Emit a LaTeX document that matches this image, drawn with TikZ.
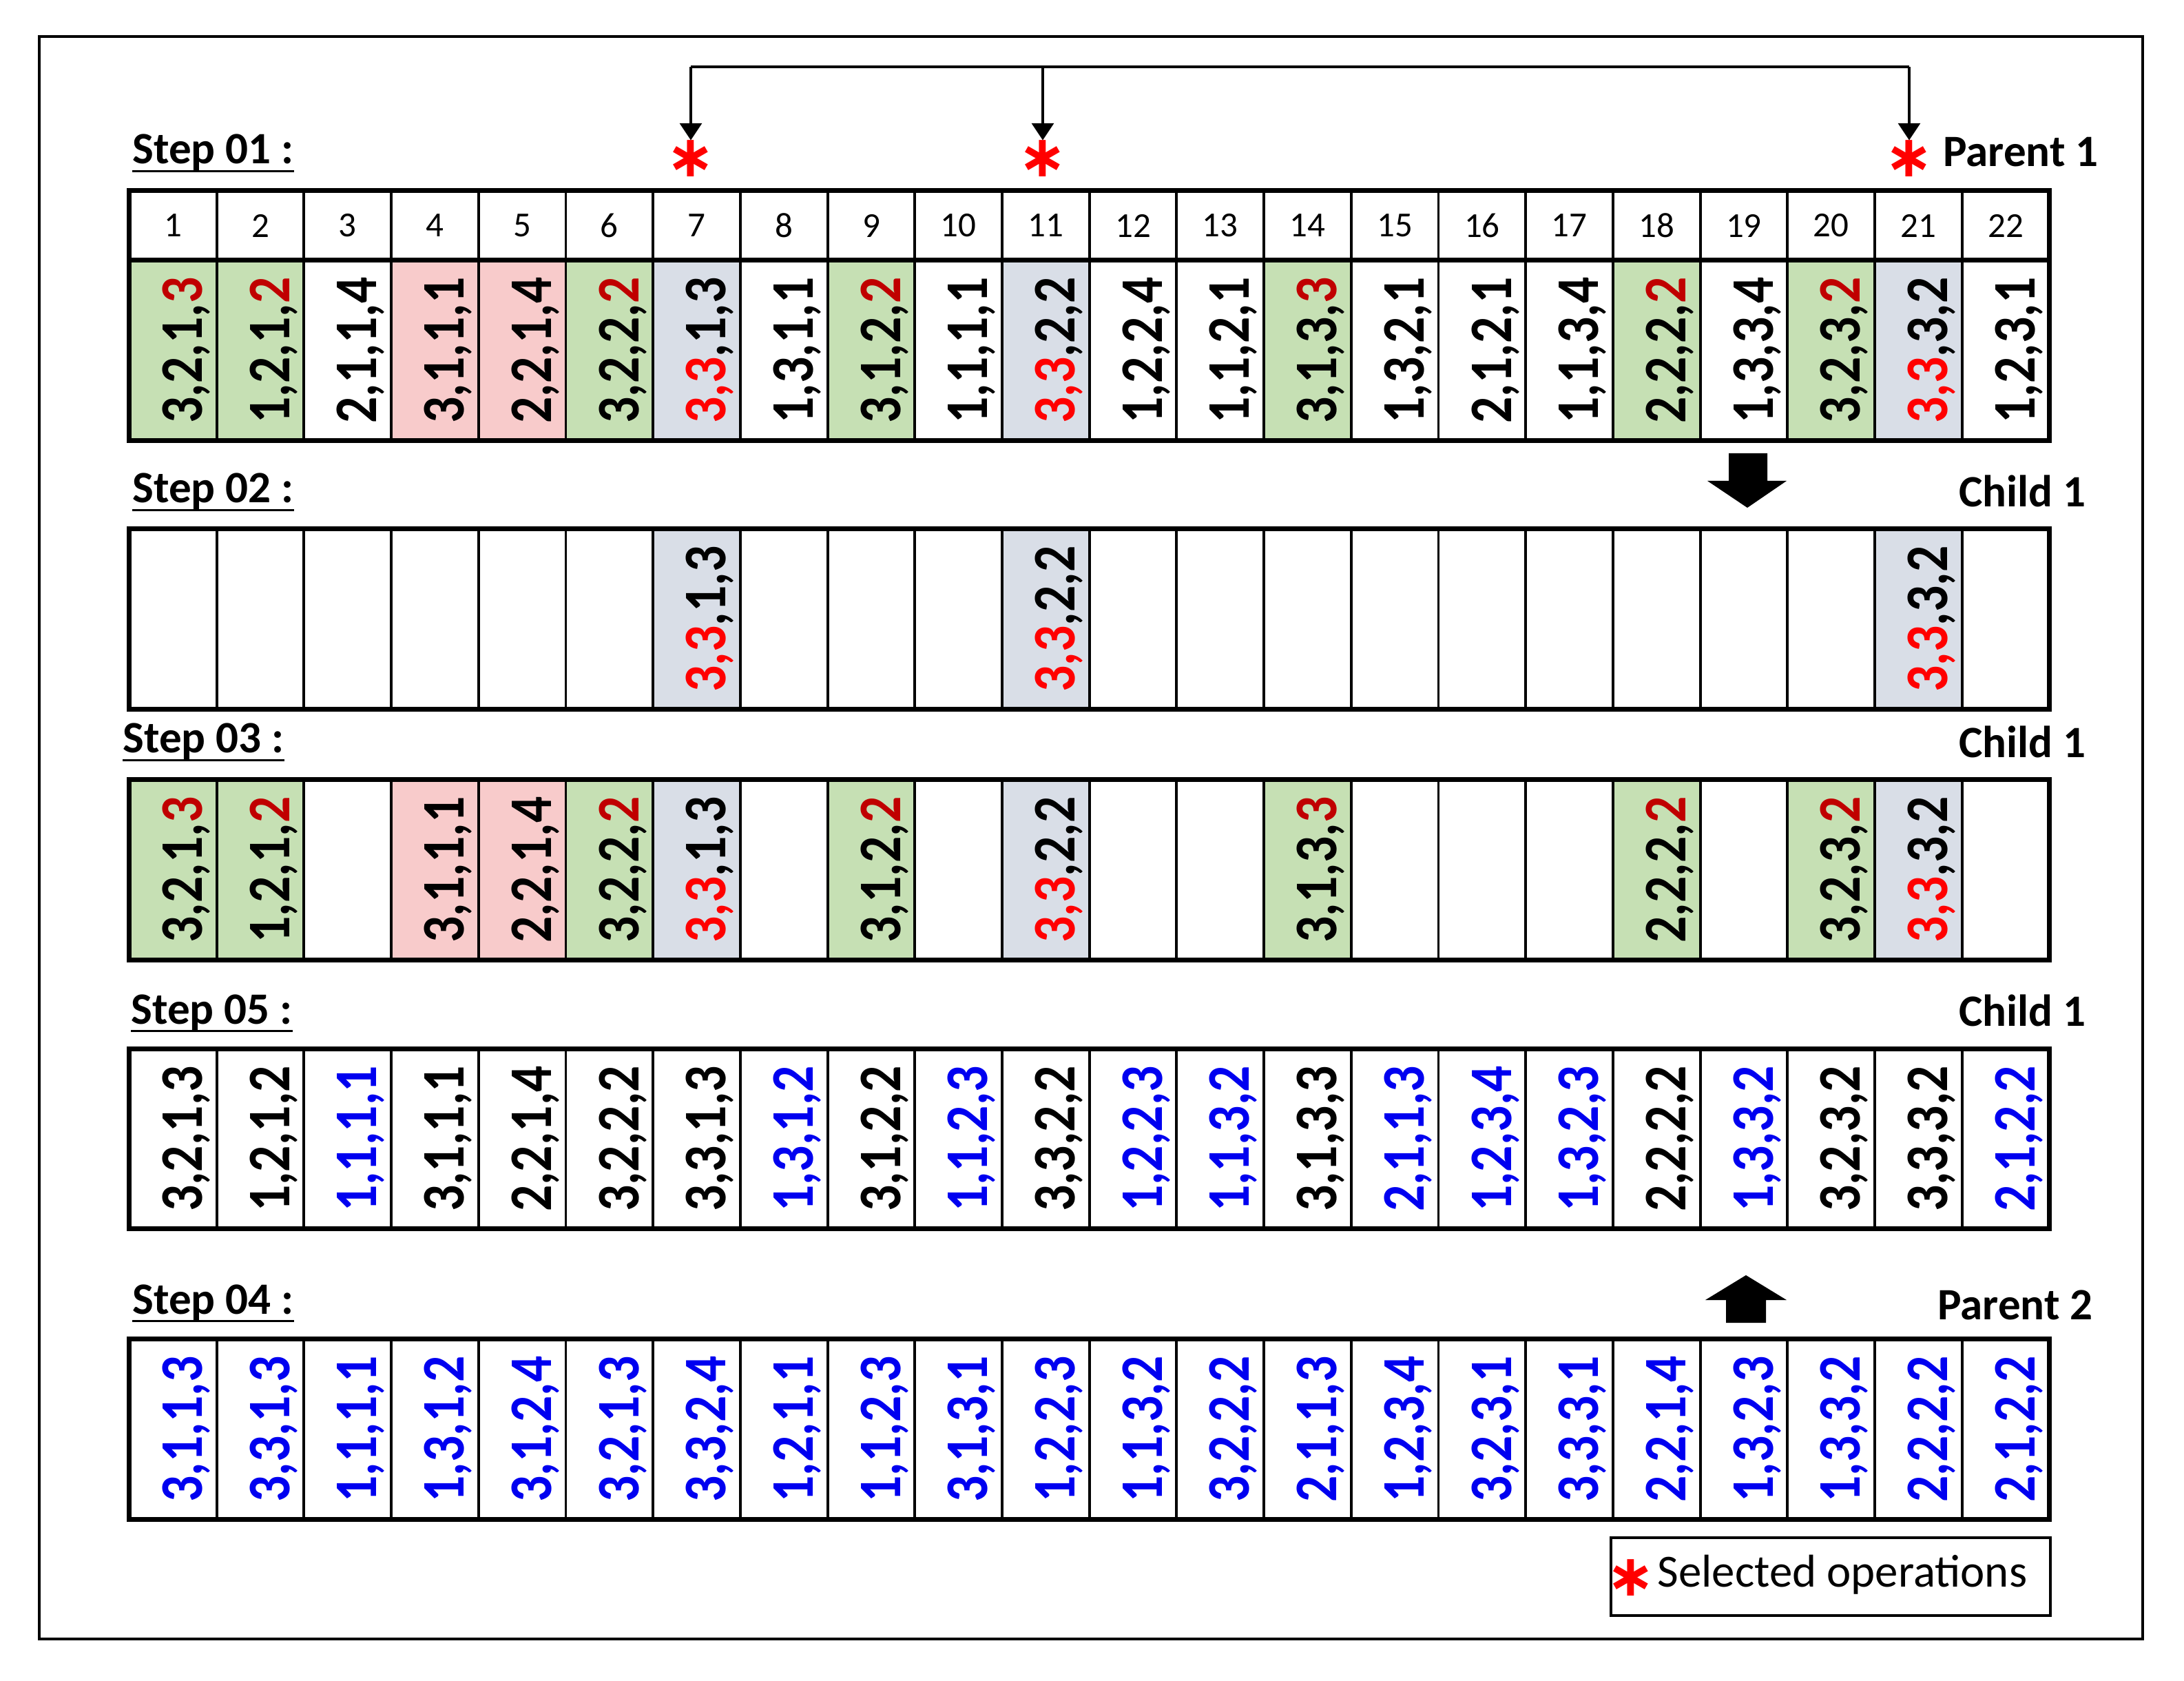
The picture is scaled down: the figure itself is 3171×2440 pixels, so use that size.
\documentclass[tikz,border=0pt]{standalone}
\usepackage{fontspec}
\usepackage{graphicx}
\setmainfont{Carlito}
\newfontfamily\astfont{DejaVu Sans}
\usetikzlibrary{arrows.meta}
\definecolor{cgreen}{HTML}{C6E0B4}
\definecolor{cpink}{HTML}{F8CBCB}
\definecolor{cgrey}{HTML}{D9DEE7}
\definecolor{dred}{HTML}{C00000}
\definecolor{bred}{HTML}{FF0000}
\definecolor{cblue}{HTML}{0000F0}
\newcommand\valtxt[1]{\hspace*{11pt}\rotatebox{90}{\scalebox{1}[1.16]{#1}}}
\newcommand\bl[1]{\textcolor{cblue}{#1}}
\tikzset{
  cell/.style={draw, line width=1.1pt, inner sep=0pt, outer sep=0pt,
    minimum width=1.267cm, minimum height=2.61cm,
    font=\bfseries\fontsize{21.5}{24}\selectfont},
  hcell/.style={draw, line width=1.1pt, inner sep=0pt, outer sep=0pt,
    minimum width=1.267cm, minimum height=1.01cm,
    font=\fontsize{14.5}{16}\selectfont},
  rowframe/.style={line width=2pt},
  lbl/.style={inner sep=0pt, font=\bfseries\fontsize{18.5}{21}\selectfont},
  ul/.style={line width=1.1pt},
  ast/.style={inner sep=0pt, outer sep=0pt, text=bred,
    font=\astfont\bfseries\fontsize{24}{26}\selectfont},
  conn/.style={line width=1.1pt},
  tip/.style={-{Triangle[width=9pt,length=7pt]}},
  legbox/.style={draw, line width=1.1pt, inner sep=0pt, outer sep=0pt,
    minimum width=6.38cm, minimum height=1.13cm},
}
\begin{document}
\begin{tikzpicture}[x=0.01cm, y=-0.01cm]
\useasboundingbox (0,0) rectangle (3171,2440);
\fill[white] (0,0) rectangle (3171,2440);
\draw[line width=1.3pt] (57,53) rectangle (3111,2379);

% ---------- Step 01 : Parent 1 ----------
\node[lbl, anchor=base west] (s1) at (192,238) {Step 01 :};
\draw[ul] ([yshift=-3pt]s1.base west) -- ([yshift=-3pt]s1.base east);
\node[lbl, anchor=base east] (r1) at (3047,242) {Parent 1};

\foreach \i in {1,...,22}{
  \pgfmathsetmacro\x{124.65+126.7*\i}
  \node[hcell] (h\i) at (\x,327.5) {\i};
}
\foreach \i/\vv/\ff in {
 1/{3,2,1,\textcolor{dred}{3}}/cgreen,
 2/{1,2,1,\textcolor{dred}{2}}/cgreen,
 3/{2,1,1,4}/white,
 4/{3,1,1,1}/cpink,
 5/{2,2,1,4}/cpink,
 6/{3,2,2,\textcolor{dred}{2}}/cgreen,
 7/{\textcolor{bred}{3,3},1,3}/cgrey,
 8/{1,3,1,1}/white,
 9/{3,1,2,\textcolor{dred}{2}}/cgreen,
 10/{1,1,1,1}/white,
 11/{\textcolor{bred}{3,3},2,2}/cgrey,
 12/{1,2,2,4}/white,
 13/{1,1,2,1}/white,
 14/{3,1,3,\textcolor{dred}{3}}/cgreen,
 15/{1,3,2,1}/white,
 16/{2,1,2,1}/white,
 17/{1,1,3,4}/white,
 18/{2,2,2,\textcolor{dred}{2}}/cgreen,
 19/{1,3,3,4}/white,
 20/{3,2,3,\textcolor{dred}{2}}/cgreen,
 21/{\textcolor{bred}{3,3},3,2}/cgrey,
 22/{1,2,3,1}/white}{
  \pgfmathsetmacro\x{124.65+126.7*\i}
  \node[cell, fill=\ff] (p1c\i) at (\x,508.5) {\valtxt{\vv}};
}
\draw[rowframe] (h1.north west) rectangle (p1c22.south east);
\draw[rowframe] (p1c1.north west) -- (p1c22.north east);

% selection marks and connector
\node[ast] (a7) at (1003,230) {∗};
\node[ast] (a11) at (1514,230) {∗};
\node[ast] (a21) at (2772,230) {∗};
\coordinate (k7) at (1003,97);
\coordinate (k11) at (1514,97);
\coordinate (k21) at (2772,97);
\draw[conn] (k7) -- (k21);
\draw[conn, tip] (k7) -- (a7.north);
\draw[conn, tip] (k11) -- (a11.north);
\draw[conn, tip] (k21) -- (a21.north);

% down block arrow
\fill (2510,658) -- (2566,658) -- (2566,698) -- (2594,698) -- (2537,737)
      -- (2479,698) -- (2510,698) -- cycle;

% ---------- Step 02 ----------
\node[lbl, anchor=base west] (s2) at (192,730) {Step 02 :};
\draw[ul] ([yshift=-3pt]s2.base west) -- ([yshift=-3pt]s2.base east);
\node[lbl, anchor=base east] (r2) at (3029,736) {Child 1};
\foreach \i/\vv/\ff in {
 1/{}/white, 2/{}/white, 3/{}/white, 4/{}/white, 5/{}/white, 6/{}/white,
 7/{\textcolor{bred}{3,3},1,3}/cgrey,
 8/{}/white, 9/{}/white, 10/{}/white,
 11/{\textcolor{bred}{3,3},2,2}/cgrey,
 12/{}/white, 13/{}/white, 14/{}/white, 15/{}/white, 16/{}/white,
 17/{}/white, 18/{}/white, 19/{}/white, 20/{}/white,
 21/{\textcolor{bred}{3,3},3,2}/cgrey,
 22/{}/white}{
  \pgfmathsetmacro\x{124.65+126.7*\i}
  \node[cell, fill=\ff] (c2c\i) at (\x,898.5) {\valtxt{\vv}};
}
\draw[rowframe] (c2c1.north west) rectangle (c2c22.south east);

% ---------- Step 03 ----------
\node[lbl, anchor=base west] (s3) at (178,1093) {Step 03 :};
\draw[ul] ([yshift=-3pt]s3.base west) -- ([yshift=-3pt]s3.base east);
\node[lbl, anchor=base east] (r3) at (3029,1100) {Child 1};
\foreach \i/\vv/\ff in {
 1/{3,2,1,\textcolor{dred}{3}}/cgreen,
 2/{1,2,1,\textcolor{dred}{2}}/cgreen,
 3/{}/white,
 4/{3,1,1,1}/cpink,
 5/{2,2,1,4}/cpink,
 6/{3,2,2,\textcolor{dred}{2}}/cgreen,
 7/{\textcolor{bred}{3,3},1,3}/cgrey,
 8/{}/white,
 9/{3,1,2,\textcolor{dred}{2}}/cgreen,
 10/{}/white,
 11/{\textcolor{bred}{3,3},2,2}/cgrey,
 12/{}/white, 13/{}/white,
 14/{3,1,3,\textcolor{dred}{3}}/cgreen,
 15/{}/white, 16/{}/white, 17/{}/white,
 18/{2,2,2,\textcolor{dred}{2}}/cgreen,
 19/{}/white,
 20/{3,2,3,\textcolor{dred}{2}}/cgreen,
 21/{\textcolor{bred}{3,3},3,2}/cgrey,
 22/{}/white}{
  \pgfmathsetmacro\x{124.65+126.7*\i}
  \node[cell, fill=\ff] (c3c\i) at (\x,1262.5) {\valtxt{\vv}};
}
\draw[rowframe] (c3c1.north west) rectangle (c3c22.south east);

% ---------- Step 05 ----------
\node[lbl, anchor=base west] (s5) at (190,1486) {Step 05 :};
\draw[ul] ([yshift=-3pt]s5.base west) -- ([yshift=-3pt]s5.base east);
\node[lbl, anchor=base east] (r5) at (3029,1489) {Child 1};
\foreach \i/\vv in {
 1/{3,2,1,3}, 2/{1,2,1,2}, 3/{\bl{1,1,1,1}}, 4/{3,1,1,1}, 5/{2,2,1,4},
 6/{3,2,2,2}, 7/{3,3,1,3}, 8/{\bl{1,3,1,2}}, 9/{3,1,2,2}, 10/{\bl{1,1,2,3}},
 11/{3,3,2,2}, 12/{\bl{1,2,2,3}}, 13/{\bl{1,1,3,2}}, 14/{3,1,3,3},
 15/{\bl{2,1,1,3}}, 16/{\bl{1,2,3,4}}, 17/{\bl{1,3,2,3}}, 18/{2,2,2,2},
 19/{\bl{1,3,3,2}}, 20/{3,2,3,2}, 21/{3,3,3,2}, 22/{\bl{2,1,2,2}}}{
  \pgfmathsetmacro\x{124.65+126.7*\i}
  \node[cell, fill=white] (c5c\i) at (\x,1653) {\valtxt{\vv}};
}
\draw[rowframe] (c5c1.north west) rectangle (c5c22.south east);

% up block arrow
\fill (2535,1851) -- (2594,1887) -- (2564,1887) -- (2564,1920) -- (2506,1920)
      -- (2506,1887) -- (2476,1887) -- cycle;

% ---------- Step 04 : Parent 2 ----------
\node[lbl, anchor=base west] (s4) at (192,1907) {Step 04 :};
\draw[ul] ([yshift=-3pt]s4.base west) -- ([yshift=-3pt]s4.base east);
\node[lbl, anchor=base east] (r4) at (3039,1915) {Parent 2};
\foreach \i/\vv in {
 1/{3,1,1,3}, 2/{3,3,1,3}, 3/{1,1,1,1}, 4/{1,3,1,2}, 5/{3,1,2,4},
 6/{3,2,1,3}, 7/{3,3,2,4}, 8/{1,2,1,1}, 9/{1,1,2,3}, 10/{3,1,3,1},
 11/{1,2,2,3}, 12/{1,1,3,2}, 13/{3,2,2,2}, 14/{2,1,1,3}, 15/{1,2,3,4},
 16/{3,2,3,1}, 17/{3,3,3,1}, 18/{2,2,1,4}, 19/{1,3,2,3}, 20/{1,3,3,2},
 21/{2,2,2,2}, 22/{2,1,2,2}}{
  \pgfmathsetmacro\x{124.65+126.7*\i}
  \node[cell, fill=white] (p2c\i) at (\x,2074.5) {\valtxt{\bl{\vv}}};
}
\draw[rowframe] (p2c1.north west) rectangle (p2c22.south east);

% ---------- Legend ----------
\node[legbox] (leg) at (2658,2288.5) {};
\node[ast] (la) at (2368,2290) {∗};
\node[inner sep=0pt, anchor=west, font=\fontsize{19}{22}\selectfont] (lt) at (2406,2286) {Selected operations};
\end{tikzpicture}
\end{document}
